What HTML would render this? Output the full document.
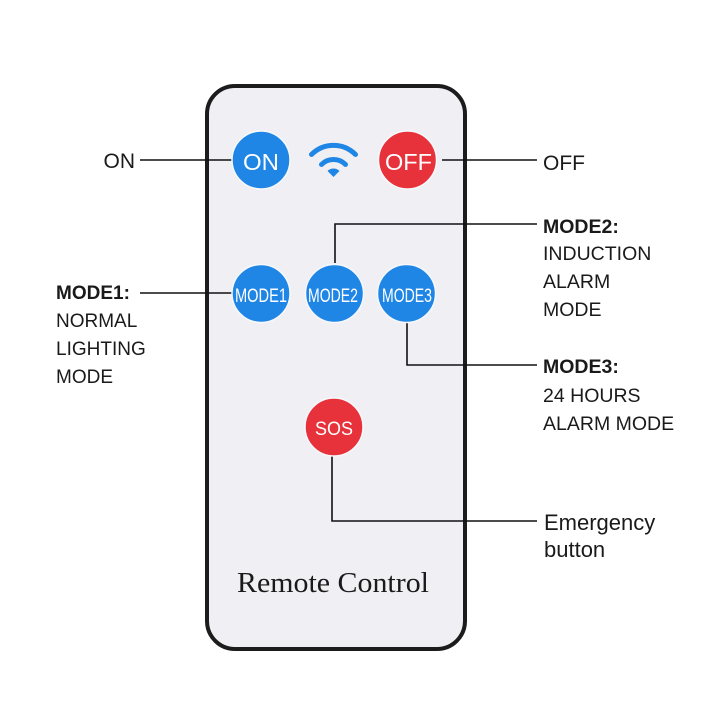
<!DOCTYPE html>
<html><head><meta charset="utf-8"><style>
html,body{margin:0;padding:0;background:#fff;}
svg{display:block;}
</style></head><body>
<svg width="720" height="720" viewBox="0 0 720 720" xmlns="http://www.w3.org/2000/svg">
<rect x="0" y="0" width="720" height="720" fill="#ffffff"/>
<!-- remote body -->
<rect x="207" y="86" width="258" height="563" rx="28" ry="28" fill="#f0f0f4" stroke="#1c1c1c" stroke-width="4"/>

<!-- connector lines -->
<g stroke="#111" stroke-width="1.6" fill="none">
<line x1="140" y1="160" x2="232" y2="160"/>
<line x1="442" y1="160" x2="537" y2="160"/>
<polyline points="335,263 335,224 537,224"/>
<line x1="140" y1="293" x2="232" y2="293"/>
<polyline points="407,323 407,365 537,365"/>
<polyline points="332,456 332,521 537,521"/>
</g>

<!-- buttons -->
<g stroke="#f6f8fb" stroke-width="1.5">
<circle cx="261" cy="160" r="29" fill="#1f86e6"/>
<circle cx="407.5" cy="160" r="29" fill="#e8323b"/>
<circle cx="261" cy="293.5" r="29" fill="#1f86e6"/>
<circle cx="334.5" cy="293.5" r="29" fill="#1f86e6"/>
<circle cx="406.5" cy="293.5" r="29" fill="#1f86e6"/>
<circle cx="334" cy="427" r="29" fill="#e8323b"/>
</g>

<!-- wifi icon -->
<g fill="none" stroke="#1f86e6" stroke-width="5" stroke-linecap="round">
<path d="M 311.5 154.5 A 31 31 0 0 1 355.5 154.5"/>
<path d="M 321.5 164.5 A 17 17 0 0 1 345.5 164.5"/>
</g>
<path d="M 333.5 177 L 327.5 171 A 8.5 8.5 0 0 1 339.5 171 Z" fill="#1f86e6"/>

<!-- button labels -->
<g font-family="Liberation Sans, Arial, sans-serif" fill="#ffffff" text-anchor="middle">
<text x="261" y="170" font-size="23" textLength="36" lengthAdjust="spacingAndGlyphs">ON</text>
<text x="408.5" y="170" font-size="23" textLength="47" lengthAdjust="spacingAndGlyphs">OFF</text>
<text x="261" y="302" font-size="19" textLength="52" lengthAdjust="spacingAndGlyphs">MODE1</text>
<text x="333" y="302" font-size="19" textLength="50" lengthAdjust="spacingAndGlyphs">MODE2</text>
<text x="407" y="302" font-size="19" textLength="50" lengthAdjust="spacingAndGlyphs">MODE3</text>
<text x="334" y="435" font-size="19" textLength="38" lengthAdjust="spacingAndGlyphs">SOS</text>
</g>

<!-- Remote Control -->
<text x="237" y="592" font-family="Liberation Serif, Times New Roman, serif" font-size="29" fill="#1a1a1a" textLength="192" lengthAdjust="spacingAndGlyphs">Remote Control</text>

<!-- side labels -->
<g font-family="Liberation Sans, Arial, sans-serif" fill="#1a1a1a">
<text x="135" y="168" font-size="21" text-anchor="end">ON</text>
<text x="56" y="299" font-size="19" font-weight="bold">MODE1:</text>
<text x="56" y="327" font-size="19">NORMAL</text>
<text x="56" y="355" font-size="19">LIGHTING</text>
<text x="56" y="383" font-size="19">MODE</text>

<text x="543" y="170" font-size="21">OFF</text>
<text x="543" y="233" font-size="19.5" font-weight="bold">MODE2:</text>
<text x="543" y="260" font-size="19.5">INDUCTION</text>
<text x="543" y="288" font-size="19.5">ALARM</text>
<text x="543" y="316" font-size="19.5">MODE</text>

<text x="543" y="373" font-size="19.5" font-weight="bold">MODE3:</text>
<text x="543" y="402" font-size="19.5">24 HOURS</text>
<text x="543" y="430" font-size="19.5">ALARM MODE</text>

<text x="544" y="530" font-size="22">Emergency</text>
<text x="544" y="557" font-size="22">button</text>
</g>
</svg>
</body></html>
